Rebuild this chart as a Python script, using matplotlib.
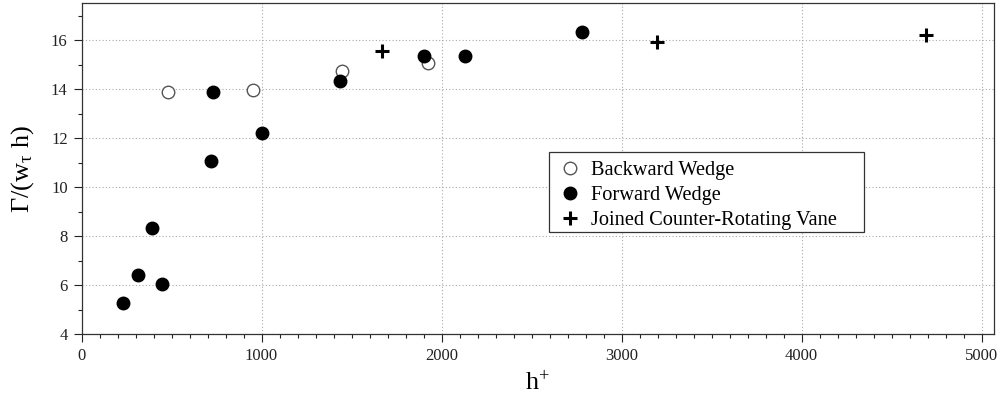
import matplotlib
matplotlib.use("Agg")
import matplotlib.pyplot as plt
from matplotlib.patches import Rectangle
from matplotlib.ticker import MultipleLocator

plt.rcParams['font.family'] = ['Liberation Serif', 'DejaVu Serif']
plt.rcParams['mathtext.fontset'] = 'custom'
plt.rcParams['mathtext.rm'] = 'Liberation Serif'
plt.rcParams['mathtext.it'] = 'Liberation Serif'

# Backward wedge
bw_h = [482, 951, 1445, 1927]
bw_g = [13.88, 13.97, 14.75, 15.06]

# Forward wedge
fw_h = [229, 312, 392, 447, 721, 729, 1005, 1436, 1903, 2131, 2782]
fw_g = [5.27, 6.42, 8.33, 6.04, 11.07, 13.90, 12.20, 14.35, 15.33, 15.33, 16.33]

# Joined counter-rotating vane
jv_h = [1668, 3199, 4692]
jv_g = [15.56, 15.93, 16.19]

x_ticks = [0, 1000, 2000, 3000, 4000, 5000]
y_ticks = [4, 6, 8, 10, 12, 14, 16]

fig = plt.figure(figsize=(10, 3.96), dpi=100)
ax = fig.add_axes([0.0815, 0.1558, 0.9128, 0.8359])

ax.plot(bw_h, bw_g, 'o', ms=9, mfc='white', mec='#555555', mew=1.0,
        label='Backward Wedge', zorder=3)
ax.plot(fw_h, fw_g, 'o', ms=9, mfc='black', mec='black', mew=1.0,
        label='Forward Wedge', zorder=3)
ax.plot(jv_h, jv_g, '+', ms=10, mec='black', mew=2.2,
        label='Joined Counter-Rotating Vane', zorder=3)

ax.set_xlim(0, 5070)
ax.set_ylim(4, 17.5)
ax.set_xticks(x_ticks)
ax.set_yticks(y_ticks)
ax.xaxis.set_minor_locator(MultipleLocator(100))
ax.yaxis.set_minor_locator(MultipleLocator(1))
ax.tick_params(which='major', direction='out', length=6, width=0.8,
               labelsize=12, top=False, right=False, pad=4, colors='#222222')
ax.tick_params(which='minor', direction='out', length=3, width=0.8,
               top=False, right=False, colors='#222222')
ax.grid(True, which='major', linestyle=(0, (1, 2)), color='#aaaaaa', linewidth=0.8)
for s in ax.spines.values():
    s.set_color('#333333')
    s.set_linewidth(0.9)

ax.set_xlabel(r'h$^{+}$', fontsize=19)
ax.set_ylabel(r'$\Gamma$/(w$_{\tau}$ h)', fontsize=19)
ax.xaxis.set_label_coords(0.5, -0.112)
ax.yaxis.set_label_coords(-0.05, 0.5)

# legend frame drawn as a white box over the grid
ax.add_patch(Rectangle((0.549, 0.4141), 0.315, 0.202,
                       transform=fig.transFigure, facecolor='white',
                       edgecolor='#333333', linewidth=0.9, zorder=4,
                       clip_on=False))

leg = ax.legend(loc='upper left', bbox_to_anchor=(0.5578, 0.593),
                bbox_transform=fig.transFigure, fontsize=14.7,
                frameon=False, handletextpad=0.43, borderpad=0,
                labelspacing=0.27, handlelength=1.2, borderaxespad=0)
leg.set_zorder(5)

fig.savefig('out.png', dpi=100)
